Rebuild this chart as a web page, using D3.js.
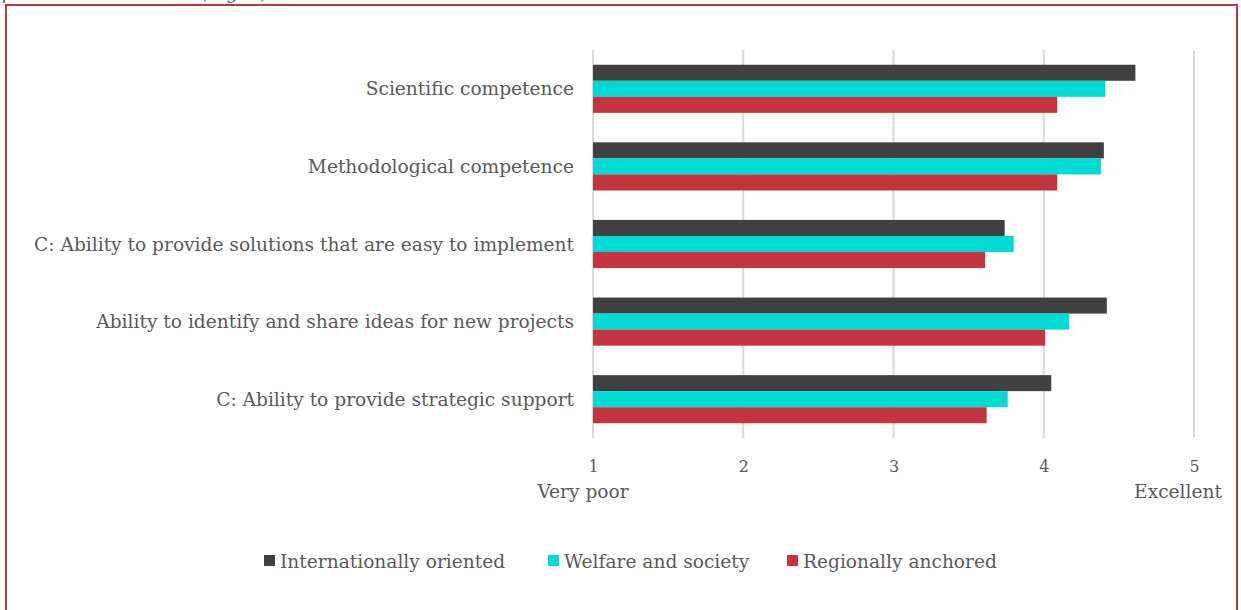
<!DOCTYPE html>
<html>
<head>
<meta charset="utf-8">
<script src="https://cdn.jsdelivr.net/npm/d3@7"></script>
<style>
  html, body { margin: 0; padding: 0; background: #fff; }
  svg { display: block; }
  text { font-family: Georgia, "DejaVu Serif", "Liberation Serif", serif; fill: #595959; }
</style>
</head>
<body>
<svg id="chart" width="1241" height="610"></svg>
<script>
// Competence ratings, 1 (very poor) to 5 (excellent)
const categories = [
  "Scientific competence",
  "Methodological competence",
  "C: Ability to provide solutions that are easy to implement",
  "Ability to identify and share ideas for new projects",
  "C: Ability to provide strategic support"
];
const seriesNames = ["Internationally oriented", "Welfare and society", "Regionally anchored"];
const internationallyOriented = [4.61, 4.40, 3.74, 4.42, 4.05];
const welfareAndSociety       = [4.41, 4.38, 3.80, 4.17, 3.76];
const regionallyAnchored      = [4.09, 4.09, 3.61, 4.01, 3.62];
const tickValues = [1, 2, 3, 4, 5];
const endLabels = ["Very poor", "Excellent"];

const seriesValues = [internationallyOriented, welfareAndSociety, regionallyAnchored];
const colors = ["#404040", "#00D9D4", "#C3343F"];
const labelSize = 18.6;

const svg = d3.select("#chart");

// Frame around the figure, with the caption line above it cut off by the page edge
svg.append("text")
  .attr("x", 2).attr("y", -1)
  .attr("font-size", 18).attr("font-style", "italic")
  .text("partners' assessment (Fig. 9)");
svg.append("rect")
  .attr("x", 6).attr("y", 5)
  .attr("width", 1231).attr("height", 640)
  .attr("fill", "none").attr("stroke", "#C3343F").attr("stroke-width", 2);

const x = d3.scaleLinear().domain([1, 5]).range([593, 1194]);
const y = d3.scaleBand().domain(categories).range([50, 438])
  .paddingInner(0.38).paddingOuter(0.19);
const ySub = d3.scaleBand().domain(d3.range(seriesNames.length)).range([0, y.bandwidth()]);

// Vertical gridlines
svg.append("g").selectAll("line").data(tickValues).join("line")
  .attr("x1", d => x(d)).attr("x2", d => x(d))
  .attr("y1", 50).attr("y2", 438)
  .attr("stroke", "#D9D9D9").attr("stroke-width", 2);

// Bars
const groups = svg.append("g").selectAll("g").data(categories).join("g")
  .attr("transform", c => `translate(0,${y(c)})`);
groups.selectAll("rect")
  .data((c, i) => seriesValues.map((vals, s) => ({ s, v: vals[i] })))
  .join("rect")
  .attr("x", x(1))
  .attr("y", d => ySub(d.s))
  .attr("width", d => x(d.v) - x(1))
  .attr("height", ySub.bandwidth())
  .attr("fill", d => colors[d.s]);

// Category labels
svg.append("g").selectAll("text").data(categories).join("text")
  .attr("x", 574)
  .attr("y", c => y(c) + y.bandwidth() / 2)
  .attr("text-anchor", "end")
  .attr("dominant-baseline", "central")
  .attr("font-size", labelSize)
  .text(c => c);

// Value axis
const xAxis = d3.axisBottom(x).tickValues(tickValues).tickFormat(d3.format("d"))
  .tickSize(0).tickPadding(0);
const axisG = svg.append("g").attr("transform", "translate(0,461)").call(xAxis);
axisG.select(".domain").remove();
axisG.selectAll("text")
  .attr("font-size", 16)
  .attr("font-family", null)
  .attr("fill", "#595959")
  .attr("dy", "0.7em");

svg.append("text").attr("x", 583).attr("y", 498)
  .attr("text-anchor", "middle").attr("font-size", labelSize).text(endLabels[0]);
svg.append("text").attr("x", 1178).attr("y", 498)
  .attr("text-anchor", "middle").attr("font-size", labelSize).text(endLabels[1]);

// Legend
const legendX = [264, 548, 787];
const legend = svg.append("g").selectAll("g").data(seriesNames).join("g")
  .attr("transform", (d, i) => `translate(${legendX[i]},561)`);
legend.append("rect")
  .attr("x", 0).attr("y", -6).attr("width", 11).attr("height", 11)
  .attr("fill", (d, i) => colors[i]);
legend.append("text")
  .attr("x", 16).attr("y", 0)
  .attr("dominant-baseline", "central")
  .attr("font-size", labelSize)
  .text(d => d);
</script>
</body>
</html>
